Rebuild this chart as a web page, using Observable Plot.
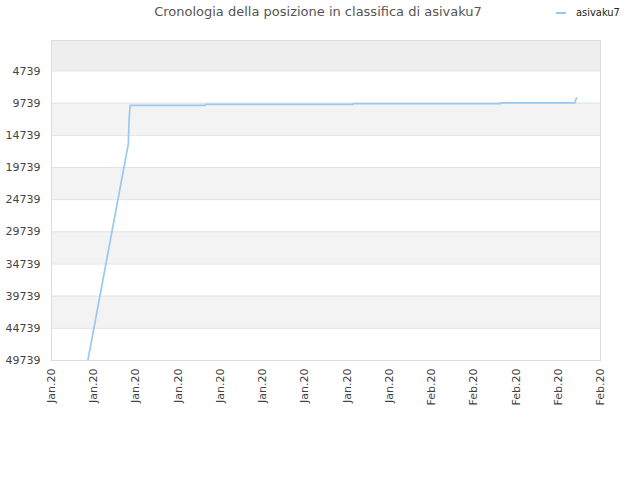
<!DOCTYPE html>
<html>
<head>
<meta charset="utf-8">
<script src="https://cdn.jsdelivr.net/npm/d3@7"></script>
<script src="https://cdn.jsdelivr.net/npm/@observablehq/plot@0.6"></script>
<style>
  body { margin: 0; background: #fff; font-family: "DejaVu Sans", sans-serif; }
  #wrap { position: relative; width: 640px; height: 480px; }
  #title { position: absolute; left: 0; top: 4px; width: 636px; text-align: center; font-size: 13px; color: #555; }
  #legend { position: absolute; left: 556px; top: 6px; font-size: 11px; color: #222; display: flex; align-items: center; }
  #legend span.sw { display: inline-block; width: 10px; height: 2px; background: #99c8f3; margin-right: 10px; }
  #chart { position: absolute; left: 0; top: 30px; }
</style>
</head>
<body>
<div id="wrap">
  <div id="title">Cronologia della posizione in classifica di asivaku7</div>
  <div id="legend"><span class="sw"></span><span style="font-stretch:condensed">asivaku7</span></div>
  <div id="chart"></div>
</div>
<script>
// Series: timestamps and rank positions
const seriesName = "asivaku7";
const times = [
  "2020-01-09T14:00Z", "2020-01-12T11:00Z", "2020-01-12T12:00Z", "2020-01-12T14:00Z",
  "2020-01-17T22:00Z", "2020-01-17T23:00Z", "2020-01-28T10:00Z", "2020-01-28T11:00Z",
  "2020-02-07T21:00Z", "2020-02-07T22:00Z", "2020-02-13T04:00Z", "2020-02-13T07:00Z"
];
const ranks = [49739, 16070, 12800, 10090, 10090, 9940, 9940, 9810, 9810, 9700, 9700, 8930];

// Axis ticks
const yTicks = [4739, 9739, 14739, 19739, 24739, 29739, 34739, 39739, 44739, 49739];
const xTickDates = [
  "2020-01-07", "2020-01-10", "2020-01-13", "2020-01-16", "2020-01-19", "2020-01-22", "2020-01-25",
  "2020-01-28", "2020-01-31", "2020-02-03", "2020-02-06", "2020-02-09", "2020-02-12", "2020-02-15"
];
const xTickLabels = [
  "Jan.20", "Jan.20", "Jan.20", "Jan.20", "Jan.20", "Jan.20", "Jan.20",
  "Jan.20", "Jan.20", "Feb.20", "Feb.20", "Feb.20", "Feb.20", "Feb.20"
];

const data = times.map((t, i) => ({date: new Date(t), rank: ranks[i]}));
const xTicks = xTickDates.map(d => new Date(d + "T00:00Z"));
const yTop = 1;
const yBottom = 49739;

// alternating background bands built from the y ticks
const bandEdges = [yTop, ...yTicks];
const bands = [];
for (let i = 0; i < bandEdges.length - 1; i++) {
  let fill = null;
  if (i === 0) fill = "#eeeeee";
  else if (i % 2 === 0) fill = "#f3f3f3";
  if (fill) bands.push({y1: bandEdges[i], y2: bandEdges[i + 1], fill});
}

const labelFor = new Map(xTicks.map((d, i) => [+d, xTickLabels[i]]));

const chart = Plot.plot({
  width: 640,
  height: 450,
  marginTop: 10,
  marginBottom: 120,
  marginLeft: 51,
  marginRight: 40,
  style: {fontFamily: "DejaVu Sans, sans-serif", fontSize: "11px", color: "#444", background: "#fff"},
  x: {type: "utc", domain: [xTicks[0], xTicks[xTicks.length - 1]]},
  y: {domain: [yTop, yBottom], reverse: true},
  marks: [
    Plot.rect(bands, {x1: xTicks[0], x2: xTicks[xTicks.length - 1], y1: "y1", y2: "y2", fill: "fill"}),
    Plot.ruleY(yTicks, {stroke: "#e2e2e2", strokeWidth: 1}),
    Plot.frame({stroke: "#dcdcdc"}),
    Plot.axisY({ticks: yTicks, tickFormat: d => String(d), tickSize: 0, tickPadding: 11, fill: "#444"}),
    Plot.axisX({ticks: xTicks, tickFormat: d => labelFor.get(+d), tickRotate: -90, tickSize: 0, tickPadding: 8, fill: "#444", label: null}),
    Plot.line(data, {x: "date", y: "rank", stroke: "#99c8f3", strokeWidth: 1.7, clip: true})
  ]
});
document.getElementById("chart").appendChild(chart);
</script>
</body>
</html>
